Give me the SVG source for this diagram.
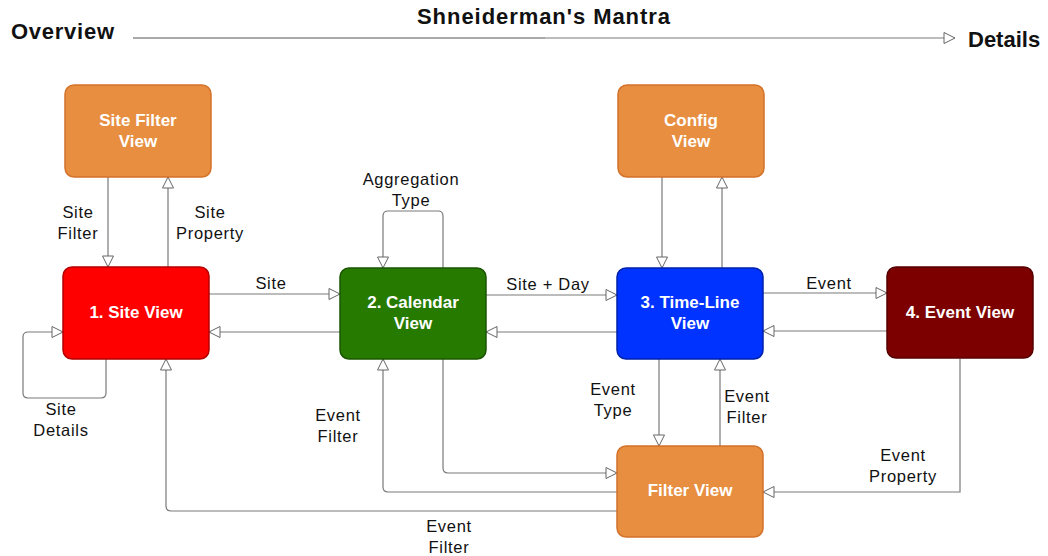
<svg xmlns="http://www.w3.org/2000/svg" width="1048" height="556" viewBox="0 0 1048 556">
<style>
.node{stroke-width:1.5}
.orange{fill:#E78E40;stroke:#D4722A}
.red{fill:#FF0000;stroke:#B30000}
.green{fill:#267A00;stroke:#1B5500}
.blue{fill:#0033FF;stroke:#0022AA}
.maroon{fill:#7D0000;stroke:#550000}
.nt{font-family:"Liberation Sans",Arial,sans-serif;font-weight:bold;font-size:17px;fill:#fff;text-anchor:middle}
.el{font-family:"Liberation Sans",Arial,sans-serif;font-size:16.5px;fill:#111;text-anchor:middle;letter-spacing:0.7px}
.hd{font-family:"Liberation Sans",Arial,sans-serif;font-weight:bold;fill:#111;font-size:22px}
.c{fill:none;stroke:#7a7a7a;stroke-width:1.2;marker-end:url(#a)}
</style>
<defs>
<marker id="a" viewBox="0 0 13 13" refX="12" refY="6.5" markerWidth="13" markerHeight="13" markerUnits="userSpaceOnUse" orient="auto">
<path d="M1,1 L12,6.5 L1,12 Z" fill="#fff" stroke="#666" stroke-width="1"/>
</marker>
</defs>

<g id="header">
<text class="hd" x="11" y="39" textLength="103" lengthAdjust="spacing">Overview</text>
<text class="hd" x="417" y="24" textLength="253" lengthAdjust="spacing">Shneiderman's Mantra</text>
<text class="hd" x="968" y="47">Details</text>
<path d="M133,38 H545" fill="none" stroke="#555" stroke-width="1"/>
<path d="M545,38 H955" class="c" stroke="#888" stroke-width="1.6"/>
</g>

<g id="connectors">
<path class="c" d="M108,177 V267"/>
<path class="c" d="M168,267 V177"/>
<path class="c" d="M106,359 V393 Q106,398 101,398 H28 Q23,398 23,393 V337 Q23,332 28,332 H63"/>
<path class="c" d="M209,294 H340"/>
<path class="c" d="M340,332 H209"/>
<path class="c" d="M443,268 V216 Q443,211 438,211 H388 Q383,211 383,216 V268"/>
<path class="c" d="M486,295 H617"/>
<path class="c" d="M617,332 H486"/>
<path class="c" d="M662,177 V268"/>
<path class="c" d="M722,268 V177"/>
<path class="c" d="M763,293 H887"/>
<path class="c" d="M887,331 H763"/>
<path class="c" d="M659,359 V446"/>
<path class="c" d="M720,446 V359"/>
<path class="c" d="M960,359 V492 H763"/>
<path class="c" d="M443,359 V468 Q443,473 448,473 H617"/>
<path class="c" d="M617,492 H388 Q383,492 383,487 V359"/>
<path class="c" d="M617,511 H171 Q166,511 166,506 V359"/>
<text class="el" x="78" y="218">Site</text>
<text class="el" x="78" y="239">Filter</text>
<text class="el" x="210" y="218">Site</text>
<text class="el" x="210" y="239">Property</text>
<text class="el" x="61" y="415">Site</text>
<text class="el" x="61" y="436">Details</text>
<text class="el" x="271" y="289">Site</text>
<text class="el" x="411" y="185">Aggregation</text>
<text class="el" x="411" y="206">Type</text>
<text class="el" x="548" y="290">Site + Day</text>
<text class="el" x="829" y="289">Event</text>
<text class="el" x="613" y="395">Event</text>
<text class="el" x="613" y="416">Type</text>
<text class="el" x="747" y="402">Event</text>
<text class="el" x="747" y="423">Filter</text>
<text class="el" x="903" y="461">Event</text>
<text class="el" x="903" y="482">Property</text>
<text class="el" x="338" y="421">Event</text>
<text class="el" x="338" y="442">Filter</text>
<text class="el" x="449" y="532">Event</text>
<text class="el" x="449" y="553">Filter</text>
</g>

<g id="site-filter-view">
<rect class="node orange" x="65" y="85" width="146" height="92" rx="9"/>
<text class="nt" x="138" y="126">Site Filter</text>
<text class="nt" x="138" y="147">View</text>
</g>
<g id="config-view">
<rect class="node orange" x="618" y="85" width="146" height="92" rx="9"/>
<text class="nt" x="691" y="126">Config</text>
<text class="nt" x="691" y="147">View</text>
</g>
<g id="site-view">
<rect class="node red" x="63" y="267" width="146" height="92" rx="9"/>
<text class="nt" x="136" y="318">1. Site View</text>
</g>
<g id="calendar-view">
<rect class="node green" x="340" y="268" width="146" height="91" rx="9"/>
<text class="nt" x="413" y="308">2. Calendar</text>
<text class="nt" x="413" y="329">View</text>
</g>
<g id="timeline-view">
<rect class="node blue" x="617" y="268" width="146" height="91" rx="9"/>
<text class="nt" x="690" y="308">3. Time-Line</text>
<text class="nt" x="690" y="329">View</text>
</g>
<g id="event-view">
<rect class="node maroon" x="887" y="267" width="146" height="91" rx="9"/>
<text class="nt" x="960" y="318">4. Event View</text>
</g>
<g id="filter-view">
<rect class="node orange" x="617" y="446" width="146" height="91" rx="9"/>
<text class="nt" x="690" y="496">Filter View</text>
</g>
</svg>
